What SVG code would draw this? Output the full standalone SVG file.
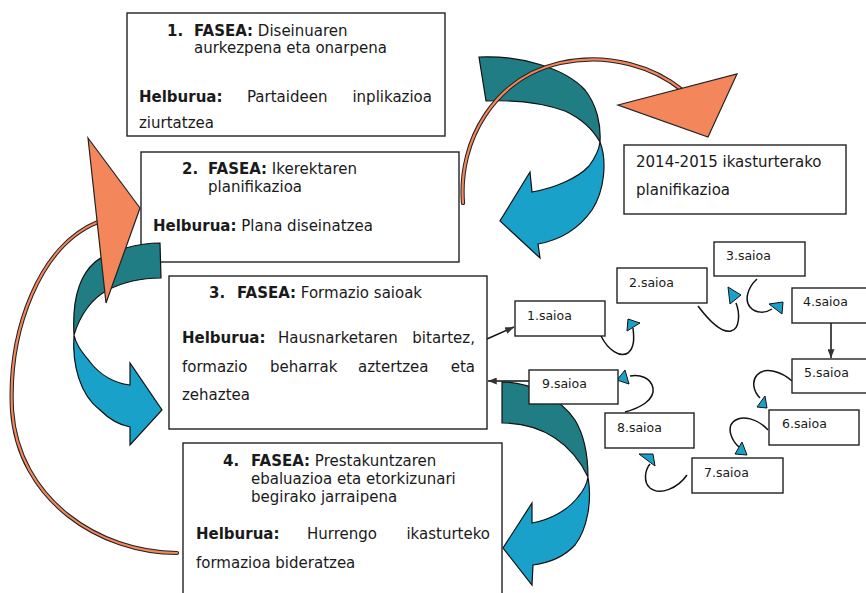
<svg xmlns="http://www.w3.org/2000/svg" width="866" height="593" viewBox="0 0 866 593">
<style>
text{font-family:"DejaVu Sans","Verdana",sans-serif;font-size:15px;fill:#1a1a1a}
.b{font-weight:bold}
.s{font-size:12.5px}
.box{fill:#fff;stroke:#222;stroke-width:1.4}
.teal{fill:#1f7d83;stroke:#111;stroke-width:1.2}
.blue{fill:#1aa1c9;stroke:#111;stroke-width:1.2}
.or{fill:#f4865c;stroke:#222;stroke-width:1.2}
.arcb{fill:none;stroke:#222;stroke-width:4.2;stroke-linecap:round}
.arco{fill:none;stroke:#f4865c;stroke-width:2.2;stroke-linecap:round}
.ln{fill:none;stroke:#111;stroke-width:1.5}
.tri{fill:#1aa1c9;stroke:#111;stroke-width:1}
</style>
<defs>
<marker id="ah" viewBox="0 0 10 8" refX="10" refY="4" markerWidth="9" markerHeight="7" markerUnits="userSpaceOnUse" orient="auto">
<path d="M0,0 L10,4 L0,8 z" fill="#333"/>
</marker>
</defs>
<rect width="866" height="593" fill="#fff"/>

<g id="fase1">
<rect class="box" x="127" y="13" width="318" height="123"/>
<text class="b" x="167" y="36">1.</text>
<text x="194" y="36"><tspan class="b">FASEA:</tspan> Diseinuaren</text>
<text x="194" y="53">aurkezpena eta onarpena</text>
<text class="b" x="139" y="102">Helburua:</text>
<text x="247" y="102">Partaideen</text>
<text x="432" y="102" text-anchor="end">inplikazioa</text>
<text x="139" y="128">ziurtatzea</text>
</g>

<g id="fase2">
<rect class="box" x="141" y="152" width="318" height="110"/>
<text class="b" x="182" y="174">2.</text>
<text x="208" y="174"><tspan class="b">FASEA:</tspan> Ikerektaren</text>
<text x="208" y="192">planifikazioa</text>
<text x="153" y="231"><tspan class="b">Helburua:</tspan> Plana diseinatzea</text>
</g>

<g id="connectors">
<!-- big curved arrow A -->
<path class="teal" d="M479,57 C520,55 565,68 585,90 C597,105 601,125 600,142 C592,128 580,118 565,111 C540,102 510,100 486,101 Z"/>
<path class="blue" d="M600,142 C607,160 605,190 592,210 C578,230 560,240 538,244 L540,258 L500,221 L530,172 L532,192 C555,188 578,178 589,166 C595,158 599,150 600,142 Z"/>
<!-- big curved arrow B -->
<path class="teal" d="M160,243 C140,243 110,250 95,262 C80,275 72,300 74,335 C80,315 92,298 108,290 C125,281 145,278 161,278 Z"/>
<path class="blue" d="M74,335 C72,365 80,395 100,410 C110,420 120,425 130,427 L130,445 L162,410 L130,363 L130,385 C115,383 100,375 90,362 C82,352 76,345 74,335 Z"/>
<!-- big curved arrow C -->
<path class="teal" d="M502,382 C530,382 560,398 575,420 C584,435 588,455 588,477 C580,460 570,448 555,438 C540,428 520,423 502,423 Z"/>
<path class="blue" d="M588,477 C592,500 588,528 575,545 C563,558 548,563 533,565 L532,585 L503,548 L532,503 L532,523 C550,520 568,510 578,497 C584,490 587,484 588,477 Z"/>
<!-- orange arcs -->
<path class="arcb" d="M463,203 C458,140 495,78 560,63 C610,52 655,68 682,90"/>
<path class="arco" d="M463,203 C458,140 495,78 560,63 C610,52 655,68 682,90"/>
<path class="arcb" d="M177,553 C100,553 18,500 12,410 C8,330 40,245 98,222"/>
<path class="arco" d="M177,553 C100,553 18,500 12,410 C8,330 40,245 98,222"/>
<polygon class="or" points="618,105 737,74 708,137"/>
<polygon class="or" points="88,138 140,208 106,303"/>
<!-- straight connectors -->
<path class="ln" d="M487,339 L514,327" marker-end="url(#ah)"/>
<path class="ln" d="M529,381 L488,381" marker-end="url(#ah)"/>
<path class="ln" d="M831,323 L831,358" marker-end="url(#ah)"/>
<!-- curly connectors between sessions -->
<path class="ln" d="M601,336 C608,350 620,358 628,353 C635,347 634,337 633,328"/>
<polygon class="tri" points="628,319 640,323 627,331"/>
<path class="ln" d="M698,306 C710,322 722,333 731,331 C740,329 740,313 736,303"/>
<polygon class="tri" points="728,287 741,295 730,304"/>
<path class="ln" d="M757,279 C748,287 744,300 750,307 C756,314 766,313 772,309"/>
<polygon class="tri" points="769,304 783,302 782,314"/>
<path class="ln" d="M792,381 C782,372 765,366 757,375 C751,382 754,392 760,398"/>
<polygon class="tri" points="765,396 767,408 757,407"/>
<path class="ln" d="M768,430 C758,419 742,414 733,422 C727,428 731,440 739,447"/>
<polygon class="tri" points="742,442 747,455 735,454"/>
<path class="ln" d="M687,475 C678,488 660,496 650,488 C643,482 645,470 650,464"/>
<polygon class="tri" points="639,454 653,454 655,466"/>
<path class="ln" d="M625,412 C640,408 655,400 653,388 C651,378 640,374 630,376"/>
<polygon class="tri" points="625,370 629,384 617,380"/>
</g>

<g id="fase3">
<rect class="box" x="169" y="276" width="318" height="153"/>
<text class="b" x="209" y="298">3.</text>
<text x="237" y="298"><tspan class="b">FASEA:</tspan> Formazio saioak</text>
<text class="b" x="182" y="343">Helburua:</text>
<text x="278" y="343">Hausnarketaren</text>
<text x="475" y="343" text-anchor="end">bitartez,</text>
<text x="182" y="372">formazio</text>
<text x="270" y="372">beharrak</text>
<text x="358" y="372">aztertzea</text>
<text x="475" y="372" text-anchor="end">eta</text>
<text x="182" y="400">zehaztea</text>
</g>

<g id="fase4">
<rect class="box" x="183" y="443" width="319" height="170"/>
<text class="b" x="223" y="466">4.</text>
<text x="251" y="466"><tspan class="b">FASEA:</tspan> Prestakuntzaren</text>
<text x="251" y="484">ebaluazioa eta etorkizunari</text>
<text x="251" y="502">begirako jarraipena</text>
<text class="b" x="196" y="539">Helburua:</text>
<text x="307" y="539">Hurrengo</text>
<text x="490" y="539" text-anchor="end">ikasturteko</text>
<text x="196" y="568">formazioa bideratzea</text>
</g>

<g id="plan2014">
<rect class="box" x="624" y="145" width="222" height="69"/>
<text x="636" y="167">2014-2015 ikasturterako</text>
<text x="636" y="195">planifikazioa</text>
</g>

<g id="saioa1"><rect class="box" x="515" y="301" width="90" height="35"/><text class="s" x="527" y="320">1.saioa</text></g>
<g id="saioa2"><rect class="box" x="617" y="268" width="90" height="35"/><text class="s" x="629" y="287">2.saioa</text></g>
<g id="saioa3"><rect class="box" x="714" y="242" width="91" height="34"/><text class="s" x="726" y="260">3.saioa</text></g>
<g id="saioa4"><rect class="box" x="792" y="288" width="80" height="35"/><text class="s" x="803" y="306">4.saioa</text></g>
<g id="saioa5"><rect class="box" x="792" y="359" width="80" height="34"/><text class="s" x="804" y="377">5.saioa</text></g>
<g id="saioa6"><rect class="box" x="769" y="410" width="90" height="35"/><text class="s" x="782" y="428">6.saioa</text></g>
<g id="saioa7"><rect class="box" x="692" y="458" width="91" height="35"/><text class="s" x="704" y="477">7.saioa</text></g>
<g id="saioa8"><rect class="box" x="605" y="413" width="89" height="35"/><text class="s" x="617" y="432">8.saioa</text></g>
<g id="saioa9"><rect class="box" x="529" y="370" width="89" height="34"/><text class="s" x="542" y="388">9.saioa</text></g>
</svg>
